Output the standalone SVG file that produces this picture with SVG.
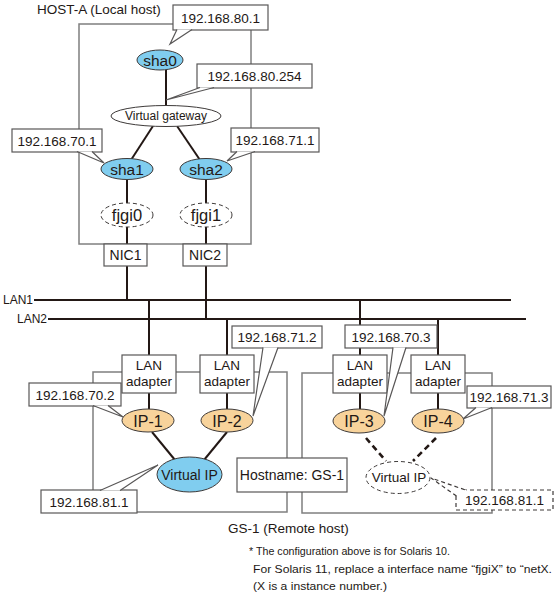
<svg xmlns="http://www.w3.org/2000/svg" width="557" height="598" viewBox="0 0 557 598">
<style>
text{font-family:"Liberation Sans",Arial,sans-serif;fill:#231815}
.ip{font-size:13.5px;text-anchor:middle}
.c{text-anchor:middle}
.host{fill:none;stroke:#7f7f7f;stroke-width:1.5}
.box{fill:#fff;stroke:#595757;stroke-width:1.2}
.ptr{fill:#fff;stroke:#595757;stroke-width:1.2;stroke-linejoin:miter}
.dbox{fill:#fff;stroke:#3e3a39;stroke-width:1.2;stroke-dasharray:4 3}
.ln{stroke:#231815;stroke-width:2;fill:none}
.dln{stroke:#231815;stroke-width:2.6;fill:none;stroke-dasharray:6 4}
.blue{fill:#80cdef;stroke:#3e3a39;stroke-width:1}
.org{fill:#f8d39b;stroke:#3e3a39;stroke-width:1}
.dell{fill:#fff;stroke:#3e3a39;stroke-width:1;stroke-dasharray:4 3}
.wel{fill:#fff;stroke:#3e3a39;stroke-width:1}
</style>

<!-- host frames -->
<g id="hostA-frame"><rect class="host" x="79" y="24" width="172" height="220"/></g>
<g id="gs1-frames">
<rect class="host" x="93" y="372" width="194" height="140"/>
<rect class="host" x="302" y="373" width="190" height="140"/>
</g>

<text x="37" y="14" style="font-size:13.5px">HOST-A (Local host)</text>
<text x="228" y="533" style="font-size:13.5px">GS-1 (Remote host)</text>

<!-- connectors -->
<g id="connectors">
<line class="ln" x1="166" y1="70" x2="166" y2="106"/>
<line class="ln" x1="153" y1="126" x2="131" y2="160"/>
<line class="ln" x1="177" y1="126" x2="200" y2="160"/>
<line class="ln" x1="127" y1="180" x2="127" y2="203"/>
<line class="ln" x1="127" y1="227" x2="127" y2="244"/>
<line class="ln" x1="206" y1="180" x2="206" y2="203"/>
<line class="ln" x1="206" y1="227" x2="206" y2="244"/>
<line class="ln" x1="127" y1="266" x2="127" y2="300"/>
<line class="ln" x1="206" y1="266" x2="206" y2="319"/>
<line class="ln" x1="34" y1="300" x2="511" y2="300"/>
<line class="ln" x1="48" y1="319" x2="526" y2="319"/>
<line class="ln" x1="149" y1="300" x2="149" y2="355"/>
<line class="ln" x1="227" y1="319" x2="227" y2="355"/>
<line class="ln" x1="360" y1="300" x2="360" y2="355"/>
<line class="ln" x1="438" y1="319" x2="438" y2="355"/>
<line class="ln" x1="149" y1="393" x2="149" y2="409"/>
<line class="ln" x1="227" y1="393" x2="227" y2="409"/>
<line class="ln" x1="360" y1="393" x2="360" y2="409"/>
<line class="ln" x1="438" y1="393" x2="438" y2="409"/>
<line class="ln" x1="152" y1="432" x2="175" y2="460"/>
<line class="ln" x1="227" y1="432" x2="204" y2="460"/>
<line class="dln" x1="366" y1="438" x2="386" y2="461"/>
<line class="dln" x1="436" y1="438" x2="413" y2="461"/>
</g>

<text x="3" y="304" style="font-size:12px">LAN1</text>
<text x="17" y="323" style="font-size:12px">LAN2</text>

<!-- HOST-A nodes -->
<g id="sha0"><ellipse class="blue" cx="160" cy="60" rx="23" ry="10"/><text class="c" x="160" y="65.5" style="font-size:15.5px">sha0</text></g>
<g id="vgw"><ellipse class="wel" cx="166" cy="116" rx="55" ry="10.5"/><text class="c" x="166" y="120" style="font-size:12px">Virtual gateway</text></g>
<g id="sha1"><ellipse class="blue" cx="127" cy="169" rx="26" ry="10.5"/><text class="c" x="127" y="175" style="font-size:15.5px">sha1</text></g>
<g id="sha2"><ellipse class="blue" cx="206" cy="169" rx="26" ry="10.5"/><text class="c" x="206" y="175" style="font-size:15.5px">sha2</text></g>
<g id="fjgi0"><ellipse class="dell" cx="127" cy="215" rx="26" ry="12"/><text class="c" x="127" y="221" style="font-size:16.5px">fjgi0</text></g>
<g id="fjgi1"><ellipse class="dell" cx="206" cy="215" rx="26" ry="12"/><text class="c" x="206" y="221" style="font-size:16.5px">fjgi1</text></g>
<g id="nic1"><rect class="box" x="104" y="244" width="43" height="22"/><text class="c" x="125.5" y="260" style="font-size:14px">NIC1</text></g>
<g id="nic2"><rect class="box" x="183" y="244" width="44" height="22"/><text class="c" x="205" y="260" style="font-size:14px">NIC2</text></g>

<!-- HOST-A callouts -->
<g id="ip-80-1"><rect class="box" x="173" y="5" width="95" height="25"/><path class="ptr" d="M177,29.5 L170,44 L192,29.5"/><text class="ip" x="220.5" y="23">192.168.80.1</text></g>
<g id="ip-80-254"><rect class="box" x="197" y="64" width="115" height="24"/><path class="ptr" d="M200,87.5 L166,100 L214,87.5"/><text class="ip" x="254.5" y="81">192.168.80.254</text></g>
<g id="ip-70-1"><rect class="box" x="12" y="129" width="90" height="23"/><path class="ptr" d="M77,151.5 L104,163 L92,151.5"/><text class="ip" x="57" y="145.5">192.168.70.1</text></g>
<g id="ip-71-1"><rect class="box" x="231" y="128" width="88" height="24"/><path class="ptr" d="M237,151.5 L227,161 L255,151.5"/><text class="ip" x="275" y="145">192.168.71.1</text></g>

<!-- GS-1 nodes -->
<g id="lan-adapter-1"><rect class="box" x="122" y="355" width="54" height="38"/><text class="c" x="149" y="370" style="font-size:13.5px">LAN</text><text class="c" x="149" y="386" style="font-size:13.5px">adapter</text></g>
<g id="lan-adapter-2"><rect class="box" x="200" y="355" width="54" height="38"/><text class="c" x="227" y="370" style="font-size:13.5px">LAN</text><text class="c" x="227" y="386" style="font-size:13.5px">adapter</text></g>
<g id="lan-adapter-3"><rect class="box" x="333" y="355" width="54" height="38"/><text class="c" x="360" y="370" style="font-size:13.5px">LAN</text><text class="c" x="360" y="386" style="font-size:13.5px">adapter</text></g>
<g id="lan-adapter-4"><rect class="box" x="411" y="355" width="54" height="38"/><text class="c" x="438" y="370" style="font-size:13.5px">LAN</text><text class="c" x="438" y="386" style="font-size:13.5px">adapter</text></g>

<g id="ip1"><ellipse class="org" cx="148" cy="420.5" rx="26" ry="11.5"/><text class="c" x="148" y="426.5" style="font-size:16px">IP-1</text></g>
<g id="ip2"><ellipse class="org" cx="227" cy="420.5" rx="26" ry="11.5"/><text class="c" x="227" y="426.5" style="font-size:16px">IP-2</text></g>
<g id="ip3"><ellipse class="org" cx="359" cy="421" rx="26" ry="12"/><text class="c" x="359" y="427" style="font-size:16px">IP-3</text></g>
<g id="ip4"><ellipse class="org" cx="438" cy="421" rx="26" ry="12"/><text class="c" x="438" y="427" style="font-size:16px">IP-4</text></g>

<g id="vip1"><ellipse class="blue" cx="189.5" cy="474.5" rx="32.5" ry="17.5"/><text class="c" x="189.5" y="479.5" style="font-size:14px">Virtual IP</text></g>
<g id="vip2"><ellipse class="dell" cx="398" cy="477.5" rx="32" ry="16"/><text class="c" x="399" y="482" style="font-size:13.5px">Virtual IP</text></g>

<g id="hostname"><rect class="box" x="237" y="458" width="110" height="34"/><text class="c" x="292" y="480" style="font-size:14px">Hostname: GS-1</text></g>

<!-- GS-1 callouts -->
<g id="ip-70-2"><rect class="box" x="29" y="383" width="92" height="23"/><path class="ptr" d="M93,405.5 L123,417 L108,405.5"/><text class="ip" x="75" y="399.5">192.168.70.2</text></g>
<g id="ip-71-2"><rect class="box" x="232" y="326" width="90" height="22"/><path class="ptr" d="M263,347.5 L253,416 L278,347.5"/><text class="ip" x="277" y="342">192.168.71.2</text></g>
<g id="ip-70-3"><rect class="box" x="345" y="325" width="92" height="23"/><path class="ptr" d="M393,347.5 L384,416 L406,347.5"/><text class="ip" x="391" y="341.5">192.168.70.3</text></g>
<g id="ip-71-3"><rect class="box" x="467" y="386" width="84" height="22"/><path class="ptr" d="M476,407.5 L463,419 L492,407.5"/><text class="ip" x="509" y="402">192.168.71.3</text></g>
<g id="ip-81-1-a"><rect class="box" x="41" y="490" width="96" height="23"/><path class="ptr" d="M100,490.5 L158,465 L120,490.5"/><text class="ip" x="89" y="506.5">192.168.81.1</text></g>
<g id="ip-81-1-b"><rect class="dbox" x="456" y="490" width="97" height="20"/><path class="dbox" d="M456.5,496 L431,478 L467,490.5"/><text class="ip" x="504.5" y="505">192.168.81.1</text></g>

<!-- note -->
<g id="note" style="font-size:11px">
<text x="249" y="555" textLength="201" lengthAdjust="spacingAndGlyphs">* The configuration above is for Solaris 10.</text>
<text x="253" y="573" textLength="299" lengthAdjust="spacingAndGlyphs">For Solaris 11, replace a interface name “fjgiX” to “netX.</text>
<text x="253" y="590" textLength="134" lengthAdjust="spacingAndGlyphs">(X is a instance number.)</text>
</g>
</svg>
